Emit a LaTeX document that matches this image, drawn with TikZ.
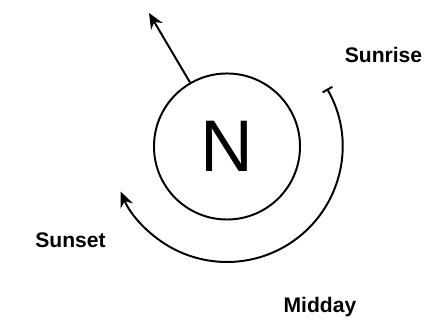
\documentclass[tikz,border=0pt]{standalone}
\usepackage{fontspec}
\setmainfont{Liberation Sans}
\usetikzlibrary{arrows.meta}

\begin{document}
\begin{tikzpicture}[x=0.025cm,y=0.025cm,line width=1.4pt,>={Stealth[length=11pt,width=9.5pt]},
  lbl/.style={font=\fontsize{15}{18}\selectfont\bfseries,anchor=base}]
\useasboundingbox (0,0) rectangle (430,326);
\node[circle,draw,minimum size=3.65cm,inner sep=0pt,font=\fontsize{52}{60}\selectfont] (n) at (227,179.5) {N};
\coordinate (pole) at (149,313);
\draw[->] (n.120) -- (pole);
\draw[{Bar[width=8pt]}->] ([shift={(30:115.5)}]n.center) arc[start angle=30,end angle=-157,radius=115.5];
\node[lbl] (sunrise) at (383.5,263) {Sunrise};
\node[lbl] (sunset) at (70.5,78) {Sunset};
\node[lbl] (midday) at (320,13) {Midday};
\end{tikzpicture}
\end{document}
